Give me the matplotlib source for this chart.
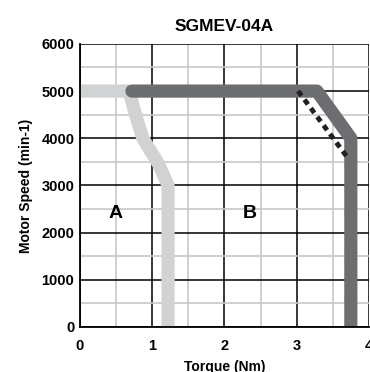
import matplotlib.pyplot as plt
from matplotlib.ticker import MultipleLocator

plt.rcParams['font.family'] = ['Liberation Sans', 'DejaVu Sans']

# curve A (continuous duty, light gray)
torque_a = [0.0, 0.66, 0.71, 0.75, 0.8, 0.87, 0.97, 1.09, 1.22, 1.22]
speed_a = [5000, 5000, 4850, 4600, 4350, 4000, 3750, 3450, 3000, 0]

# curve B (intermittent duty, dark gray)
torque_b = [0.72, 3.28, 3.75, 3.75]
speed_b = [5000, 5000, 4000, 0]

# dashed line
torque_d = [3.02, 3.7]
speed_d = [5000, 3600]

fig = plt.figure(figsize=(3.7, 3.72), dpi=100)
ax = fig.add_axes([0.216, 0.121, 0.781, 0.761])

ax.set_xlim(0, 4)
ax.set_ylim(0, 6000)
ax.xaxis.set_major_locator(MultipleLocator(1))
ax.xaxis.set_minor_locator(MultipleLocator(0.5))
ax.yaxis.set_major_locator(MultipleLocator(1000))
ax.yaxis.set_minor_locator(MultipleLocator(500))
ax.grid(which='minor', color='#c8c8c8', linewidth=1.2)
ax.grid(which='major', color='black', linewidth=1.1)
ax.set_axisbelow(True)

ax.plot(torque_a, speed_a, color='#d1d2d4', linewidth=9.5,
        solid_joinstyle='round', solid_capstyle='butt')
ax.plot(torque_b, speed_b, color='#6d6e71', linewidth=9.5,
        solid_joinstyle='round', solid_capstyle='round')
ax.plot(torque_d, speed_d, color='#231f20', linewidth=3.5,
        dashes=(1.2, 1.0))

ax.text(0.5, 2400, 'A', fontsize=14, fontweight='bold', ha='center', va='center')
ax.text(2.35, 2400, 'B', fontsize=14, fontweight='bold', ha='center', va='center')

for s in ['top', 'right']:
    ax.spines[s].set_visible(False)
for s in ['left', 'bottom']:
    ax.spines[s].set_linewidth(1.3)

ax.tick_params(which='both', length=0, labelsize=10.5)
ax.tick_params(axis='x', pad=9)
ax.tick_params(axis='y', pad=4)
for lbl in ax.get_xticklabels() + ax.get_yticklabels():
    lbl.set_fontweight('bold')

ax.set_title('SGMEV-04A', fontsize=12.5, fontweight='bold', pad=9)
ax.set_xlabel('Torque (Nm)', fontsize=10, fontweight='bold', labelpad=5)
ax.set_ylabel('Motor Speed (min-1)', fontsize=10, fontweight='bold', labelpad=6)

fig.savefig('out.png', dpi=100)
